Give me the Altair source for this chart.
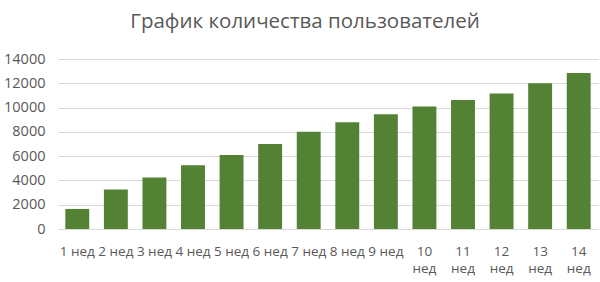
import altair as alt
import pandas as pd

weeks = ["1 нед", "2 нед", "3 нед", "4 нед", "5 нед", "6 нед", "7 нед",
         "8 нед", "9 нед", "10 нед", "11 нед", "12 нед", "13 нед", "14 нед"]
users = [1650, 3250, 4250, 5250, 6100, 7000, 8000,
         8800, 9450, 10080, 10620, 11150, 12000, 12850]

df = pd.DataFrame({"week": weeks, "users": users})

FONT = "Open Sans"
GRAY = "#595959"

chart = alt.Chart(df).mark_bar(color="#548235").encode(
    x=alt.X("week:N", sort=weeks,
            scale=alt.Scale(paddingInner=0.38, paddingOuter=0.19),
            axis=alt.Axis(title=None, labelAngle=0, ticks=False,
                          domainColor="#d9d9d9", labelColor=GRAY,
                          labelFont=FONT, labelFontSize=13.5, labelPadding=15,
                          labelLineHeight=17, labelBaseline="top",
                          labelExpr="length(datum.label) > 5 ? split(datum.label, ' ') : datum.label")),
    y=alt.Y("users:Q",
            scale=alt.Scale(domain=[0, 14000], nice=False),
            axis=alt.Axis(title=None, values=list(range(0, 14001, 2000)),
                          format="d", ticks=False, domain=False,
                          gridColor="#d9d9d9",
                          labelColor=GRAY, labelFont=FONT, labelFontSize=14.5,
                          labelPadding=13)),
).properties(
    width=540, height=170,
    autosize=alt.AutoSizeParams(type="none"),
    padding={"left": 58, "top": 59, "right": 2, "bottom": 53},
    title=alt.TitleParams("График количества пользователей", font=FONT,
                          fontSize=20.5, fontWeight="normal", color=GRAY,
                          anchor="middle", dx=-23, offset=19),
).configure_view(stroke=None)

chart.save("out.html", embed_options={"renderer": "svg", "actions": False})
